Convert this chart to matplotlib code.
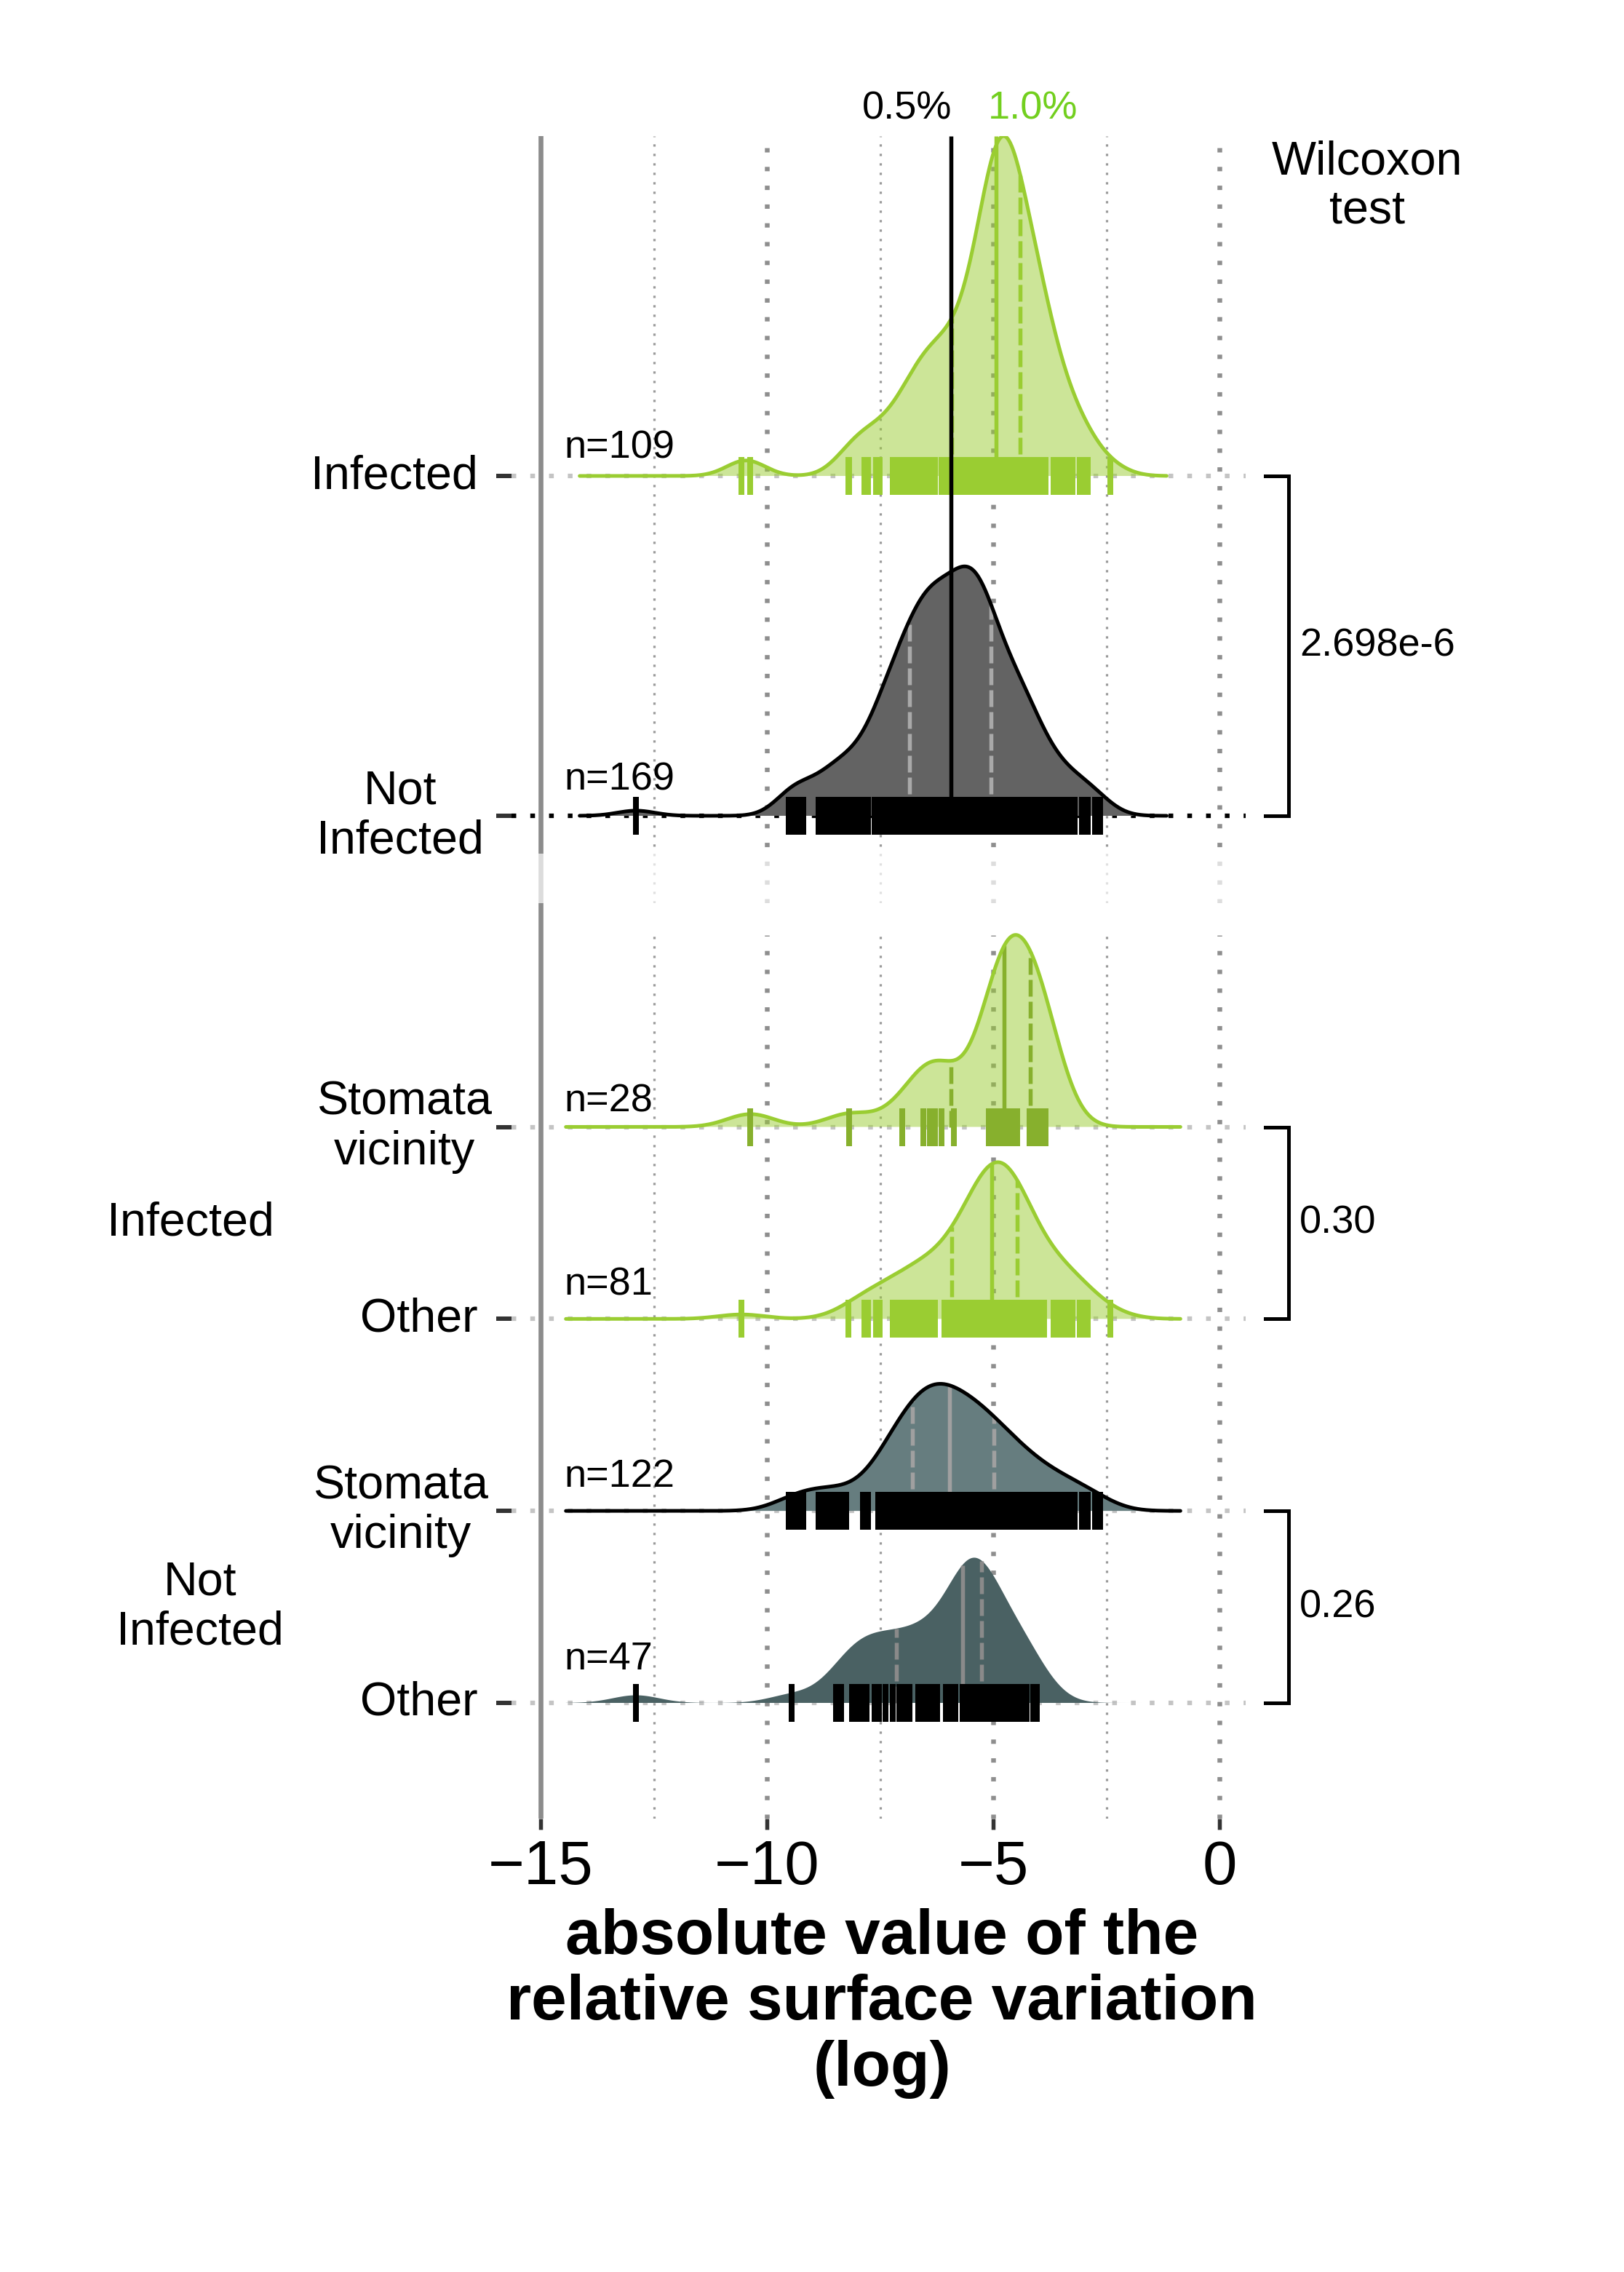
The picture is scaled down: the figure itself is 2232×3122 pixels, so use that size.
import numpy as np
import matplotlib
matplotlib.use("Agg")
import matplotlib.pyplot as plt
from matplotlib.transforms import blended_transform_factory, offset_copy
from matplotlib.patches import Rectangle

plt.rcParams['font.family'] = ['Liberation Sans', 'DejaVu Sans']
plt.rcParams['lines.scale_dashes'] = False

# ---------------- data (log of |relative surface variation|) ----------------
stomata_infected = [-10.37, -8.19, -7.02, -6.55, -6.40, -6.30, -6.15, -5.88,
                    -5.10, -5.02, -4.95, -4.88, -4.82, -4.78, -4.74, -4.70,
                    -4.65, -4.60, -4.55, -4.48, -4.20, -4.12, -4.05, -4.00,
                    -3.95, -3.92, -3.88, -3.85]

other_infected = [-10.57, -8.20, -7.85, -7.78, -7.60, -7.52, -7.22, -7.12, -6.98, -6.88,
                  -6.78, -6.70, -6.62, -6.52, -6.44, -6.36, -6.29, -6.08, -6.02, -5.97,
                  -5.93, -5.86,
                  -5.76, -5.70, -5.64, -5.58, -5.53, -5.48, -5.44, -5.40, -5.36, -5.32,
                  -5.28, -5.25, -5.21, -5.18, -5.15, -5.12, -5.09, -5.06, -5.04,
                  -5.01, -4.98, -4.95, -4.92, -4.89, -4.86, -4.83, -4.80, -4.77, -4.74,
                  -4.71, -4.68, -4.65, -4.62, -4.60, -4.57, -4.54, -4.52, -4.49, -4.47,
                  -4.42, -4.36, -4.30, -4.24, -4.18, -4.12, -4.05, -3.98, -3.92, -3.88,
                  -3.68, -3.60, -3.52, -3.45, -3.33, -3.25, -3.10, -3.00, -2.92, -2.42]

stomata_not_infected = [-9.52, -9.40, -9.30, -9.20, -8.86, -8.75, -8.62, -8.52, -8.38, -8.25,
                        -7.88, -7.78,
                        -7.55, -7.50, -7.46, -7.42, -7.38, -7.33, -7.29, -7.25, -7.21, -7.17,
                        -7.13, -7.09, -7.06, -7.03,
                        -6.92, -6.88, -6.85, -6.82, -6.79,
                        -6.77, -6.74, -6.72, -6.69, -6.66, -6.64, -6.61, -6.58, -6.56, -6.53,
                        -6.50, -6.47, -6.45, -6.42, -6.39, -6.37, -6.34, -6.31, -6.29, -6.26,
                        -6.23, -6.20, -6.18, -6.15, -6.12, -6.10, -6.07, -6.04, -6.02, -5.99,
                        -5.97, -5.94, -5.90, -5.87, -5.84, -5.81, -5.77, -5.74, -5.71, -5.67,
                        -5.64, -5.61, -5.58, -5.54, -5.51, -5.48, -5.44, -5.41, -5.38, -5.35,
                        -5.31, -5.28, -5.25, -5.21, -5.18, -5.15, -5.12, -5.08, -5.05, -5.02,
                        -4.98, -4.93, -4.88, -4.83, -4.78, -4.73, -4.68, -4.63, -4.58, -4.53,
                        -4.49, -4.44, -4.40,
                        -4.34, -4.27, -4.20, -4.12, -4.05, -3.98,
                        -3.90, -3.82, -3.72, -3.62, -3.52, -3.43,
                        -3.33, -3.20, -3.05, -2.92, -2.75, -2.65]

other_not_infected = [-12.90, -9.46, -8.48, -8.36, -8.12, -8.03, -7.92, -7.80, -7.63, -7.53,
                      -7.38, -7.22, -7.08, -6.95, -6.86, -6.67, -6.55, -6.46, -6.35, -6.24,
                      -6.05, -5.95, -5.84, -5.69, -5.65, -5.61, -5.57, -5.53, -5.49, -5.46,
                      -5.42, -5.39, -5.35, -5.31, -5.28, -5.24, -5.16, -5.06, -4.95, -4.82,
                      -4.70, -4.58, -4.49, -4.36, -4.27, -4.13, -4.04]

top_labels = ["Not\nInfected", "Infected"]
bottom_labels = ["Other", "Stomata\nvicinity", "Other", "Stomata\nvicinity"]
bottom_group_labels = ["Not\nInfected", "Infected"]
pvalues = ["2.698e-6", "0.30", "0.26"]
median_labels = ["0.5%", "1.0%"]
x_ticks = [-15, -10, -5, 0]
x_label = "absolute value of the\nrelative surface variation\n(log)"
test_label = "Wilcoxon\ntest"

# ---------------- helpers ----------------
W, H, DPI = 2232, 3122, 300
PT = 72.0 / DPI  # points per pixel


def nrd0(x):
    x = np.asarray(x, float)
    sd = np.std(x, ddof=1)
    q1, q3 = np.quantile(x, [0.25, 0.75])
    return 0.9 * min(sd, (q3 - q1) / 1.34) * len(x) ** -0.2


def kde(x, grid, bw):
    x = np.asarray(x, float)
    z = (grid[:, None] - x[None, :]) / bw
    return np.exp(-0.5 * z ** 2).sum(1) / (len(x) * bw * np.sqrt(2 * np.pi))


def ridge_panel(groups):
    bw = np.mean([nrd0(g) for g in groups])
    allx = np.concatenate([np.asarray(g, float) for g in groups])
    grid = np.linspace(allx.min() - 3 * bw, allx.max() + 3 * bw, 800)
    dens = [kde(g, grid, bw) for g in groups]
    m = max(d.max() for d in dens)
    return grid, [d / m for d in dens]


fig = plt.figure(figsize=(W / DPI, H / DPI), dpi=DPI)
fig.patch.set_facecolor('white')


def rect(left, top, right, bottom):
    return [left / W, 1 - bottom / H, (right - left) / W, (bottom - top) / H]


XLIM = (-15.651, 0.571)
ax_t = fig.add_axes(rect(703, 187, 1712, 1240.7))
ax_b = fig.add_axes(rect(703, 1240.7, 1712, 2499))
ax_t.set_ylim(-0.2563, 2.0)
ax_b.set_ylim(-0.6027, 4.1667)

GREEN = '#9acd32'
GREEN_DARK = '#87b02d'
LABEL_GREEN = '#72cf1e'
LW_CURVE = 5 * PT
LW_Q = 5.5 * PT
DASH_Q = (0, (23 * PT, 7 * PT))
RUG_MS = 52 * PT
RUG_MEW = 8.0 * PT
LSP = 1.17

for ax in (ax_t, ax_b):
    ax.set_xlim(*XLIM)
    for s in ax.spines.values():
        s.set_visible(False)
    ax.set_facecolor('none')
    ax.tick_params(axis='y', length=21 * PT, width=6 * PT, color='#333333', labelleft=False)
    ax.axvline(-15, color='#8c8c8c', lw=6.7 * PT, zorder=2)

ax_t.tick_params(axis='x', bottom=False, labelbottom=False)
ax_b.tick_params(axis='x', length=15 * PT, width=5.5 * PT, color='#333333', pad=3.0,
                 labelsize=20.5)
ax_b.set_xticks(x_ticks)
ax_b.set_xticklabels([str(t).replace('-', '\u2212') for t in x_ticks])


def gridlines(ax, y0, y1):
    for x in [-10, -5, 0]:
        ax.vlines(x, y0, y1, colors='#8e8e8e', linewidth=6.5 * PT,
                  linestyles=[(0, (6 * PT, 19.8 * PT))], zorder=1)
    for x in [-12.5, -7.5, -2.5]:
        ax.vlines(x, y0, y1, colors='#9a9a9a', linewidth=3.2 * PT,
                  linestyles=[(0, (3.2 * PT, 9.8 * PT))], zorder=1)


gridlines(ax_t, -0.2563, 2.0)
gridlines(ax_b, -0.6027, 4.0)

# light gap between the two panels
ax_t.add_patch(Rectangle((XLIM[0], -0.2563), XLIM[1] - XLIM[0], 0.2563 - 0.1107,
                         facecolor='white', alpha=0.7, edgecolor='none', zorder=3))


def baseline(ax, y, color):
    ax.axhline(y, color=color, lw=6.2 * PT, linestyle=(0, (6.5 * PT, 19.3 * PT)), zorder=1.5)


def draw_ridge(ax, grid, h, vals, base, fill, falpha, line, qcol, rugcol, z,
               solid_top=None, solid_col=None):
    vals = np.asarray(vals, float)
    ax.fill_between(grid, base, base + h, facecolor=fill, alpha=falpha, lw=0, zorder=z)
    if line is not None:
        ax.plot(grid, base + h, color=line, lw=LW_CURVE, zorder=z + 0.1,
                solid_capstyle='round', solid_joinstyle='round')
    q1, q2, q3 = np.quantile(vals, [0.25, 0.5, 0.75])
    for q in (q1, q3):
        ax.plot([q, q], [base, base + np.interp(q, grid, h)], color=qcol, lw=LW_Q,
                linestyle=DASH_Q, zorder=z + 0.05, solid_capstyle='butt')
    top = base + np.interp(q2, grid, h) if solid_top is None else solid_top
    ax.plot([q2, q2], [base, top], color=qcol if solid_col is None else solid_col,
            lw=LW_Q, zorder=(z + 0.05) if solid_top is None else 20, solid_capstyle='butt')
    ax.plot(vals, np.full(len(vals), base), linestyle='none', marker='|', ms=RUG_MS,
            mew=RUG_MEW, color=rugcol, zorder=z + 0.3)
    return q2


# ---------------- top panel ----------------
infected = stomata_infected + other_infected
not_infected = stomata_not_infected + other_not_infected
grid_t, (h_inf, h_ni) = ridge_panel([infected, not_infected])
baseline(ax_t, 1, '#c4c4c4')
baseline(ax_t, 0, 'black')
ax_t.set_yticks([0, 1])
med_inf = draw_ridge(ax_t, grid_t, h_inf, infected, 1, GREEN, 0.5, GREEN, GREEN, GREEN, 4,
                     solid_top=2.0, solid_col=GREEN)
med_ni = draw_ridge(ax_t, grid_t, h_ni, not_infected, 0, '#636363', 1.0, 'black', '#a9a9a9',
                    'black', 6, solid_top=2.0, solid_col='black')

ax_t.annotate(median_labels[0], (med_ni, 2.0), xytext=(1 * PT, 24 * PT),
              textcoords='offset points', ha='right', va='baseline', fontsize=13,
              color='black', annotation_clip=False)
ax_t.annotate(median_labels[1], (med_inf, 2.0), xytext=(-11 * PT, 24 * PT),
              textcoords='offset points', ha='left', va='baseline', fontsize=13,
              color=LABEL_GREEN, annotation_clip=False)

# ---------------- bottom panel ----------------
grid_b, hb = ridge_panel([stomata_infected, other_infected,
                          stomata_not_infected, other_not_infected])
for y in range(4):
    baseline(ax_b, y, '#c4c4c4')
ax_b.set_yticks([0, 1, 2, 3])
draw_ridge(ax_b, grid_b, hb[0], stomata_infected, 3, GREEN, 0.5, GREEN, GREEN_DARK, GREEN_DARK, 4)
draw_ridge(ax_b, grid_b, hb[1], other_infected, 2, GREEN, 0.5, GREEN, GREEN, GREEN, 6)
draw_ridge(ax_b, grid_b, hb[2], stomata_not_infected, 1, '#667d7f', 1.0, 'black', '#a0a0a0',
           'black', 8)
draw_ridge(ax_b, grid_b, hb[3], other_not_infected, 0, '#4a6163', 1.0, None, '#8a8a8a',
           'black', 10)

# ---------------- n labels ----------------
n_specs = [(ax_t, 1, infected, 25), (ax_t, 0, not_infected, 36),
           (ax_b, 3, stomata_infected, 21), (ax_b, 2, other_infected, 32.6),
           (ax_b, 1, stomata_not_infected, 33.6), (ax_b, 0, other_not_infected, 45.5)]
for ax, y, vals, off in n_specs:
    tr = offset_copy(ax.transData, fig=fig, x=0, y=off, units='dots')
    ax.text(-14.48, y, f"n={len(vals)}", transform=tr, ha='left', va='baseline', fontsize=13)

# ---------------- brackets and p-values ----------------
for ax, (ya, yb), p in [(ax_t, (1, 0), pvalues[0]), (ax_b, (3, 2), pvalues[1]),
                        (ax_b, (1, 0), pvalues[2])]:
    tr = blended_transform_factory(fig.transFigure, ax.transData)
    ax.plot([1739 / W, 1771 / W, 1771 / W, 1739 / W], [ya, ya, yb, yb], transform=tr,
            clip_on=False, color='black', lw=5 * PT, solid_joinstyle='miter', zorder=5)
    ax.text(1786 / W, (ya + yb) / 2, p, transform=tr, ha='left', va='center', fontsize=13)

fig.text(1879 / W, 1 - 256 / H, test_label, ha='center', va='center', fontsize=15.5,
         linespacing=LSP, multialignment='center')

# ---------------- category labels ----------------
def ylab(ax, y, text, x_px, ha):
    tr = blended_transform_factory(fig.transFigure, ax.transData)
    ax.text(x_px / W, y, text, transform=tr, ha=ha, va='center', fontsize=15.5,
            linespacing=LSP, multialignment='center')

ylab(ax_t, 1, top_labels[1], 657, 'right')
ylab(ax_t, 0, top_labels[0], 550, 'center')
ylab(ax_b, 3, bottom_labels[3], 556, 'center')
ylab(ax_b, 2, bottom_labels[2], 657, 'right')
ylab(ax_b, 1, bottom_labels[1], 551, 'center')
ylab(ax_b, 0, bottom_labels[0], 657, 'right')
ylab(ax_b, 2.5, bottom_group_labels[1], 262, 'center')
ylab(ax_b, 0.5, bottom_group_labels[0], 275, 'center')

fig.text(1212 / W, 1 - 2622 / H, x_label, ha='center', va='top', fontsize=21,
         fontweight='bold', linespacing=1.15, multialignment='center')

fig.savefig('out.png', dpi=DPI, facecolor='white')
